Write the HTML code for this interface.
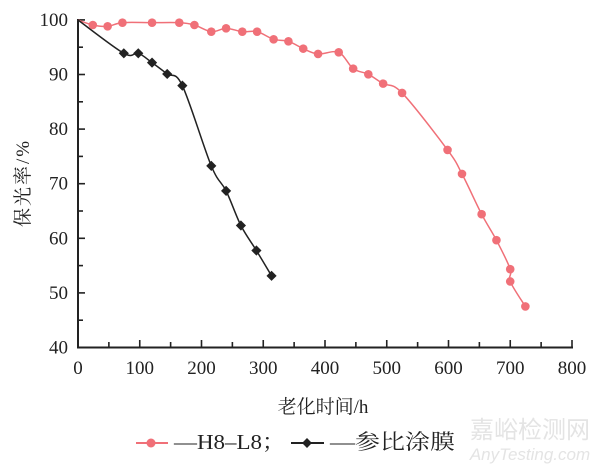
<!DOCTYPE html>
<html><head><meta charset="utf-8"><style>
html,body{margin:0;padding:0;background:#fff;width:600px;height:468px;overflow:hidden}
svg text{font-family:"Liberation Serif","Noto Serif CJK SC",serif;fill:#222}
</style></head><body>
<svg id="s" width="600" height="468" xmlns="http://www.w3.org/2000/svg">
<g stroke="#222" stroke-width="2" fill="none">
<path d="M78,19 V347.5 H573"/>
</g>
<g id="ticks" stroke="#222" stroke-width="1.6"></g>
<g id="lbl" font-size="19"></g>
<text x="0" y="0" font-size="19" letter-spacing="2" transform="translate(29,183) rotate(-90)" text-anchor="middle">保光率/%</text>
<text x="323" y="413" font-size="19" text-anchor="middle">老化时间/h</text>
<text x="530" y="438" font-size="24" text-anchor="middle" style="fill:#e4e4e4;font-family:'Noto Sans CJK SC',sans-serif">嘉峪检测网</text>
<text x="530" y="460" font-size="17" text-anchor="middle" font-style="italic" style="fill:#e4e4e4;font-family:'Liberation Sans',sans-serif">AnyTesting.com</text>
<line x1="136" y1="443" x2="168" y2="443" stroke="#f07078" stroke-width="2"/>
<circle cx="151" cy="443" r="4.5" fill="#f07078"/>
<text x="174" y="449" font-size="21" textLength="111" lengthAdjust="spacingAndGlyphs">—H8–L8；</text>
<line x1="291" y1="443" x2="324" y2="443" stroke="#222" stroke-width="2"/>
<rect x="303.5" y="439.5" width="7" height="7" fill="#222" transform="rotate(45 307 443)"/>
<text x="330" y="449" font-size="21" textLength="125" lengthAdjust="spacingAndGlyphs">—参比涂膜</text>
<g id="plot"></g>
</svg>
<script>
var NS="http://www.w3.org/2000/svg";
function el(t,a,p){var e=document.createElementNS(NS,t);for(var k in a)e.setAttribute(k,a[k]);document.getElementById(p).appendChild(e);return e;}
function X(v){return 78+v*0.6175}function Y(v){return 347.5-(v-40)*5.46}
for(var i=0;i<=16;i++){var x=78+i*30.875;el("line",{x1:x,y1:347.5,x2:x,y2:(i%2?342:340)},"ticks");}
for(var i=0;i<=12;i++){var y=347.5-i*27.3;el("line",{x1:78,y1:y,x2:(i%2?83:85),y2:y},"ticks");}
for(var i=0;i<=8;i++){var t=el("text",{x:X(i*100),y:374,"text-anchor":"middle"},"lbl");t.textContent=i*100;}
for(var i=0;i<=6;i++){var t=el("text",{x:68,y:Y(40+i*10)+6,"text-anchor":"end"},"lbl");t.textContent=40+i*10;}
function cv(p){return p.map(function(q){return [78+(q[0]-52)*0.3444,20+(q[1]-60)*0.3331];});}
var red=cv([[52,60],[95,75],[138,79],[181,68],[267,68],[346,68],[390,75],[439,95],[482,85],[529,95],[572,95],[620,118],[663,124],[706,146],[749,162],[809,157],[851,206],[895,223],[938,251],[993,279],[1125,450],[1167,522],[1224,643],[1267,721],[1307,808],[1307,845],[1351,920]]);
var blk=cv([[52,60],[185,160],[227,160],[267,188],[311,222],[355,257],[439,498],[482,573],[525,677],[570,752],[614,828]]);
function path(p){var d="M"+p[0][0]+","+p[0][1];for(var i=0;i<p.length-1;i++){var p0=p[i-1]||p[i],p1=p[i],p2=p[i+1],p3=p[i+2]||p2;d+=" C"+(p1[0]+(p2[0]-p0[0])/6)+","+(p1[1]+(p2[1]-p0[1])/6)+" "+(p2[0]-(p3[0]-p1[0])/6)+","+(p2[1]-(p3[1]-p1[1])/6)+" "+p2[0]+","+p2[1];}return d;}
el("path",{d:path(red),fill:"none",stroke:"#f07078","stroke-width":1.5},"plot");
el("path",{d:path(blk),fill:"none",stroke:"#222","stroke-width":1.5},"plot");
red.slice(1).forEach(function(q){el("circle",{cx:q[0],cy:q[1],r:4.3,fill:"#f07078"},"plot");});
blk.slice(1).forEach(function(q){el("rect",{x:q[0]-3.6,y:q[1]-3.6,width:7.2,height:7.2,fill:"#222",transform:"rotate(45 "+q[0]+" "+q[1]+")"},"plot");});
</script>
</body></html>
